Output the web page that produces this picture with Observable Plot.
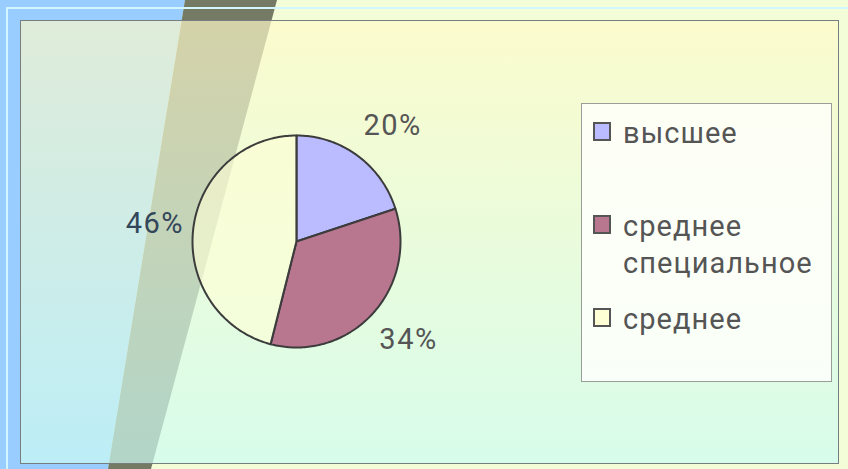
<!DOCTYPE html>
<html>
<head>
<meta charset="utf-8">
<script src="https://cdn.jsdelivr.net/npm/d3@7"></script>
<script src="https://cdn.jsdelivr.net/npm/@observablehq/plot@0.6"></script>
<style>
html, body { margin: 0; padding: 0; }
body { width: 848px; height: 469px; overflow: hidden; position: relative; background: #f3fdd8; font-family: Roboto, "Liberation Sans", sans-serif; }
.layer { position: absolute; left: 0; top: 0; width: 848px; height: 469px; }
.blue { background: #99ccff; clip-path: polygon(0 0, 185px 0, 108px 469px, 0 469px); }
.band { background: #747a64; clip-path: polygon(185px 0, 277px 0, 151px 469px, 108px 469px); }
.frameH { position: absolute; left: 6px; top: 7px; width: 842px; height: 2px; background: #d2f6ff; }
.frameV { position: absolute; left: 6px; top: 7px; width: 2px; height: 462px; background: #d2f6ff; }
.area { position: absolute; left: 20px; top: 20px; width: 817px; height: 442px; border: 1px solid #777e80;
  background: linear-gradient(to bottom, rgba(255,250,200,0.69), rgba(204,252,243,0.70)); }
#chart { position: absolute; left: 0; top: 0; }
#legend { position: absolute; left: 581px; top: 103px; width: 251px; height: 279px; box-sizing: border-box;
  border: 1px solid #9a9c98; background: rgba(255,255,252,0.82); }
.item { position: absolute; left: 11px; width: 235px; }
.sw { position: absolute; left: 0; top: 7px; width: 18px; height: 19px; box-sizing: border-box; border: 2px solid #555; }
.tx { position: absolute; left: 30px; top: 0; width: 205px; font-size: 29px; line-height: 37px; letter-spacing: 1.05px; color: #555; }
</style>
</head>
<body>
<div class="layer blue"></div>
<div class="layer band"></div>
<div class="frameH"></div>
<div class="frameV"></div>
<div class="area"></div>
<div id="chart"></div>
<div id="legend"></div>
<script>
const categories = ["высшее", "среднее специальное", "среднее"];
const values = [20, 34, 46];
const percentLabels = ["20%", "34%", "46%"];
const sliceColors = ["#bbbbff", "#b9778f", "rgba(255,255,214,0.6)"];
const swatchColors = ["#bbbbff", "#b9778f", "#ffffd6"];
const labelColors = ["#555555", "#555555", "#33465a"];

const arcs = d3.pie().sort(null).value(d => d)(values);

// slice outlines in unit-circle coordinates (angle 0 at 12 o'clock, clockwise)
const verts = [];
arcs.forEach((a, i) => {
  const cat = categories[i];
  verts.push({cat, x: 0, y: 0});
  const n = Math.max(2, Math.ceil((a.endAngle - a.startAngle) / (Math.PI / 180)));
  for (let k = 0; k <= n; k++) {
    const t = a.startAngle + (a.endAngle - a.startAngle) * k / n;
    verts.push({cat, x: Math.sin(t), y: Math.cos(t)});
  }
  verts.push({cat, x: 0, y: 0});
});

const lbls = arcs.map((a, i) => {
  const m = (a.startAngle + a.endAngle) / 2;
  const s = Math.sin(m), c = Math.cos(m);
  return {x: s * 1.08 + Math.sign(s) * 0.29, y: c * 1.35, text: percentLabels[i], color: labelColors[i]};
});

const chart = Plot.plot({
  width: 848,
  height: 469,
  margin: 0,
  style: {background: "transparent", overflow: "visible", letterSpacing: "1.5px", fontFamily: "Roboto, sans-serif"},
  x: {domain: [-1, 1], range: [192, 400], axis: null},
  y: {domain: [-1, 1], range: [347, 135], axis: null},
  color: {domain: categories, range: sliceColors},
  marks: [
    Plot.line(verts, {x: "x", y: "y", z: "cat", fill: "cat", stroke: "#3c3c3c", strokeWidth: 2, strokeLinejoin: "round", curve: "linear"}),
    ...lbls.map(l => Plot.text([l], {x: "x", y: "y", text: "text", fill: l.color, fontSize: 29, fontFamily: "Roboto"}))
  ]
});
document.getElementById("chart").appendChild(chart);

const legend = document.getElementById("legend");
categories.forEach((c, i) => {
  const it = document.createElement("div");
  it.className = "item";
  it.style.top = (11 + i * 93) + "px";
  const sw = document.createElement("div");
  sw.className = "sw";
  sw.style.background = swatchColors[i];
  const tx = document.createElement("div");
  tx.className = "tx";
  tx.textContent = c;
  it.appendChild(sw);
  it.appendChild(tx);
  legend.appendChild(it);
});
</script>
</body>
</html>
